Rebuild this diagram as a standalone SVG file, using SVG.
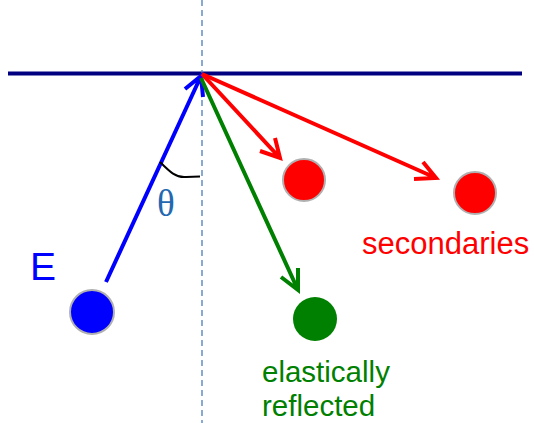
<svg xmlns="http://www.w3.org/2000/svg" width="534" height="423" viewBox="0 0 534 423">
<style>
.ln{fill:none;stroke-width:4;stroke-linecap:butt;stroke-linejoin:miter}
.dot{stroke:#b0b0b0;stroke-width:2}
.lbl{font-family:"Liberation Sans",Arial,sans-serif}
</style>
<rect width="534" height="423" fill="#fff"/>
<g id="surface">
<line x1="8" y1="73.5" x2="522" y2="73.5" stroke="#000080" stroke-width="4"/>
<line x1="202" y1="0" x2="202" y2="423" stroke="#4a7ebb" stroke-width="1.3" stroke-dasharray="6,4"/>
</g>
<g id="connectors">
<path class="ln" stroke="#0000ff" d="M106,282 L201,76 M185,89 L201,76 L203,97"/>
<path class="ln" stroke="#ff0000" d="M202,74 L280,158 M260,151 L280,158 L275,138"/>
<path class="ln" stroke="#ff0000" d="M202,74 L436,178 M414,179 L436,178 L423,162"/>
<path class="ln" stroke="#008000" d="M201,78 L298,290 M281,277 L298,290 L298,268"/>
<path fill="none" stroke="#000" stroke-width="2" d="M160,162 C170,172 176,178 186,177 L200,176.5"/>
</g>
<g id="incident">
<circle cx="92" cy="312" r="22" fill="#0000ff" class="dot"/>
<text x="30" y="280" class="lbl" font-size="39" fill="#0000ff">E</text>
<text x="157" y="216" font-family="'Liberation Serif',serif" font-size="37" fill="#2468b0">θ</text>
</g>
<g id="secondary1">
<circle cx="304" cy="180" r="21" fill="#ff0000" class="dot"/>
</g>
<g id="secondary2">
<circle cx="475" cy="193" r="21" fill="#ff0000" class="dot"/>
<text x="362" y="254" class="lbl" font-size="31" fill="#ff0000">secondaries</text>
</g>
<g id="elastic">
<circle cx="315" cy="319" r="22" fill="#008000"/>
<text x="262" y="382" class="lbl" font-size="29.5" fill="#008000">elastically</text>
<text x="262" y="416" class="lbl" font-size="29.5" fill="#008000">reflected</text>
</g>
</svg>
